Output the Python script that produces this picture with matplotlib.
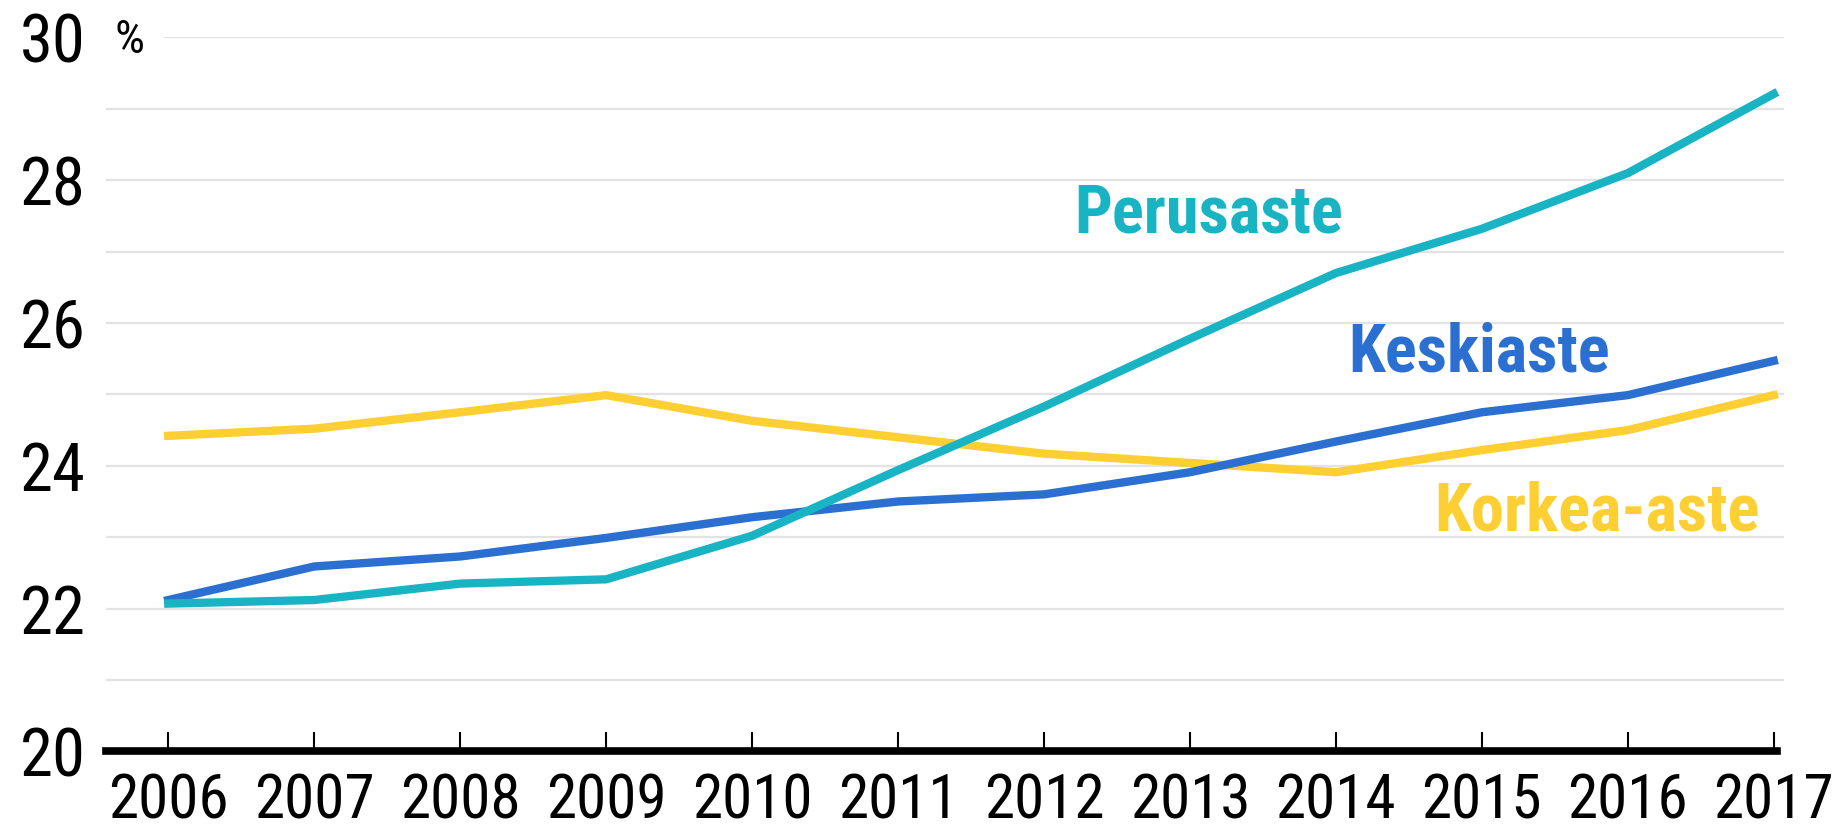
import numpy as np
import matplotlib
matplotlib.use("Agg")
import matplotlib.pyplot as plt
from matplotlib import font_manager

# %% data
years = np.arange(2006, 2018)
perusaste = [22.07, 22.12, 22.35, 22.41, 23.02, 23.94, 24.83, 25.78, 26.70, 27.32, 28.10, 29.21]
keskiaste = [22.12, 22.59, 22.73, 22.99, 23.28, 23.50, 23.60, 23.91, 24.34, 24.75, 24.99, 25.47]
korkea_aste = [24.42, 24.52, 24.75, 24.99, 24.63, 24.40, 24.17, 24.04, 23.91, 24.22, 24.50, 24.99]
series_names = ["Perusaste", "Keskiaste", "Korkea-aste"]
yticks = [20, 22, 24, 26, 28, 30]

c_teal = "#19b4c3"
c_blue = "#2b6fd1"
c_yellow = "#fdcf33"

# pick a narrow font if one is around
names = {f.name for f in font_manager.fontManager.ttflist}
if "Roboto Condensed" in names:
    narrow = "Roboto Condensed"
elif "Liberation Sans Narrow" in names:
    narrow = "Liberation Sans Narrow"
else:
    narrow = "DejaVu Sans"

# %% figure
fig = plt.figure(figsize=(18.38, 8.33), dpi=100)
ax = fig.add_axes([0.0574, 0.098, 0.9132, 0.857])

ax.plot(years, korkea_aste, color=c_yellow, lw=6, solid_joinstyle="round", zorder=3)
ax.plot(years, keskiaste, color=c_blue, lw=6, solid_joinstyle="round", zorder=4)
ax.plot(years, perusaste, color=c_teal, lw=6, solid_joinstyle="round", zorder=5)

x0, x1 = 2005.57, 2017.07
ax.set_xlim(x0, x1)
ax.set_ylim(20, 30)

# gridlines, top one starts after the % sign
for g in range(21, 31):
    xmin = 0.0355 if g == 30 else 0.0
    ax.axhline(g, xmin=xmin, xmax=1.0, color="#e3e3e3", lw=1.6, zorder=1)

for s in ["top", "right", "left"]:
    ax.spines[s].set_visible(False)
ax.spines["bottom"].set_linewidth(5.5)
ax.spines["bottom"].set_bounds(x0, 2017.02)
ax.spines["bottom"].set_zorder(6)

ax.set_xticks(years)
ax.set_xticklabels([str(y) for y in years])
ax.set_yticks(yticks)
ax.tick_params(axis="x", direction="in", length=14, width=1.5, pad=15,
               labelsize=44)
ax.tick_params(axis="y", length=0, pad=14, labelsize=48)
for lab in ax.get_xticklabels() + ax.get_yticklabels():
    lab.set_fontfamily(narrow)

ax.text(2005.635, 29.97, "%", fontsize=34, family=narrow, ha="left", va="center")

# series labels
lab_kw = dict(fontsize=48, fontweight="bold", family=narrow, ha="center", va="center")
ax.text(2013.13, 27.52, series_names[0], color=c_teal, **lab_kw)
ax.text(2014.98, 25.57, series_names[1], color=c_blue, **lab_kw)
ax.text(2015.79, 23.35, series_names[2], color=c_yellow, **lab_kw)

fig.savefig("out.png", dpi=100)
